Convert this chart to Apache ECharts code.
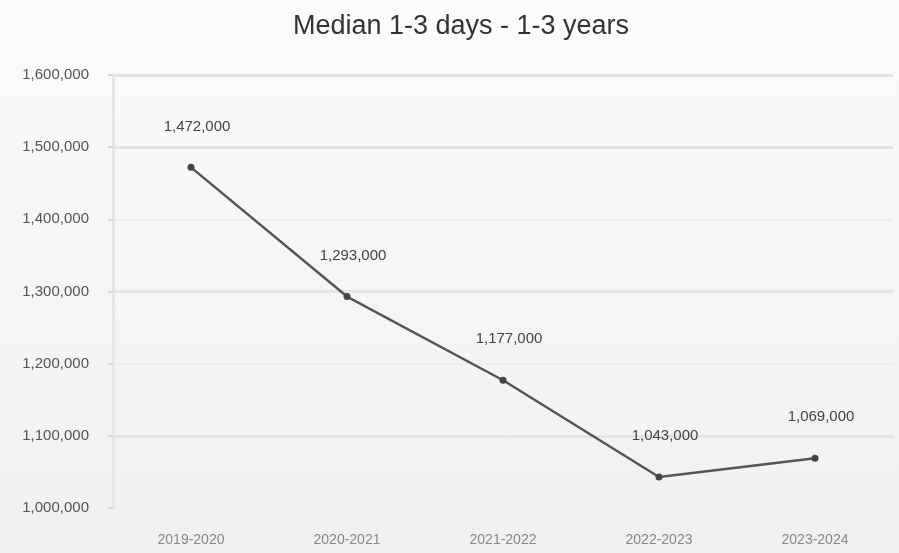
<!DOCTYPE html>
<html>
<head>
<meta charset="utf-8">
<script src="https://cdn.jsdelivr.net/npm/echarts@6/dist/echarts.min.js"></script>
<style>
  html, body { margin: 0; padding: 0; }
  body { background: linear-gradient(#fbfbfb, #f0f0f0); }
  #chart { width: 899px; height: 553px; }
</style>
</head>
<body>
<div id="chart"></div>
<script>
// Periods along the x axis
const periods = ['2019-2020', '2020-2021', '2021-2022', '2022-2023', '2023-2024'];
// Median value for each period
const medianValues = [1472000, 1293000, 1177000, 1043000, 1069000];
// Value axis range and step
const yMin = 1000000;
const yMax = 1600000;
const yStep = 100000;
// Emphasised reference levels
const majorLevels = [1100000, 1300000, 1500000, 1600000];

const fmt = v => v.toLocaleString('en-US');

const chart = echarts.init(document.getElementById('chart'), null, { renderer: 'canvas' });
chart.setOption({
  backgroundColor: 'transparent',
  animation: false,
  title: {
    text: 'Median 1-3 days - 1-3 years',
    left: 456,
    textAlign: 'center',
    top: 8,
    textStyle: { fontFamily: 'Liberation Sans', fontSize: 27, fontWeight: 'normal', color: '#333' }
  },
  grid: { left: 113, right: 6, top: 75, bottom: 45 },
  xAxis: {
    type: 'category',
    data: periods,
    boundaryGap: true,
    axisLine: { show: false },
    axisTick: { show: false },
    axisLabel: { margin: 25, fontFamily: 'Liberation Sans', fontSize: 14, color: '#888' },
    splitLine: { show: false }
  },
  yAxis: {
    type: 'value',
    min: yMin,
    max: yMax,
    interval: yStep,
    axisLine: { show: true, lineStyle: { color: '#e6e6e6', width: 3 } },
    axisTick: { show: true, length: 5, lineStyle: { color: '#d8d8d8', width: 2 } },
    axisLabel: { margin: 24, fontFamily: 'Liberation Sans', fontSize: 15, color: '#555', formatter: fmt },
    splitLine: { show: true, lineStyle: { color: '#eeeeee', width: 2 } }
  },
  series: [{
    type: 'line',
    data: medianValues,
    symbol: 'circle',
    symbolSize: 7,
    lineStyle: { color: '#555', width: 2.5 },
    itemStyle: { color: '#444' },
    label: {
      show: true,
      position: 'top',
      distance: 30,
      offset: [6, 0],
      fontFamily: 'Liberation Sans',
      fontSize: 15,
      color: '#444',
      formatter: p => fmt(p.value)
    },
    markLine: {
      silent: true,
      symbol: 'none',
      label: { show: false },
      lineStyle: { color: '#e4e4e4', width: 3, type: 'solid' },
      data: majorLevels.map(v => ({ yAxis: v }))
    },
    z: 5
  }]
});
</script>
</body>
</html>
